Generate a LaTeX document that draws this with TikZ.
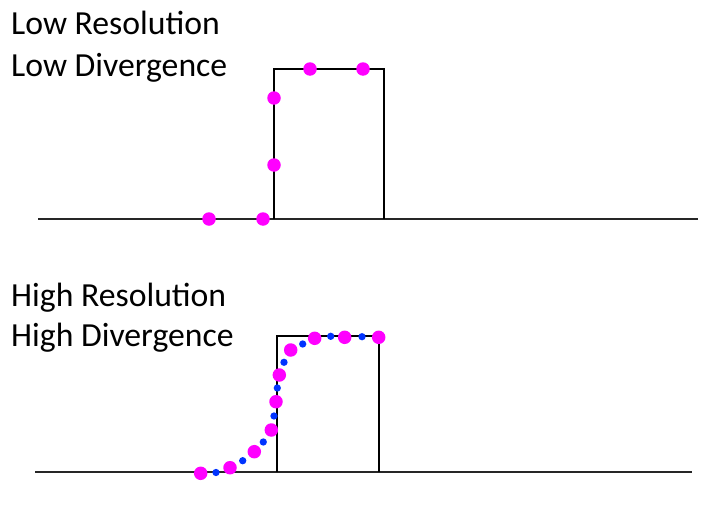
\documentclass[tikz,border=0pt]{standalone}
\usepackage{fontspec}
\setmainfont{Carlito}
\definecolor{dotmag}{HTML}{FF00FF}
\definecolor{dotblue}{HTML}{0033FF}
\begin{document}
\begin{tikzpicture}[x=1pt,y=-1pt,
  lbl/.style={anchor=base west,inner sep=0pt,font=\fontsize{33.7}{40}\selectfont},
  axisline/.style={line width=1.8pt,black!85},
  pulse/.style={line width=1.8pt,black},
  mdot/.style={circle,fill=dotmag,inner sep=0pt,minimum size=13.5pt},
  bdot/.style={circle,fill=dotblue,inner sep=0pt,minimum size=7.3pt}]
\useasboundingbox (0,0) rectangle (712,530);
% top panel
\node[lbl] (t1) at (11,34) {Low Resolution};
\node[lbl] (t2) at (11,76) {Low Divergence};
\draw[axisline] (38,219) -- (698,219);
\draw[pulse] (274,219) -- (274,69) -- (384,69) -- (384,219);
\foreach \x/\y [count=\i] in {209/219,263/219,274/165,274/98,310/69,363/69}
  \node[mdot] (a\i) at (\x,\y) {};
% bottom panel
\node[lbl] (t3) at (11,306) {High Resolution};
\node[lbl] (t4) at (11,346) {High Divergence};
\draw[axisline] (35,472) -- (692,472);
\draw[pulse] (277,472) -- (277,336) -- (379,336) -- (379,472);
\foreach \x/\y [count=\i] in {216/472.5,242.7/460.7,263.3/442,274/416,277.3/388,284/362.3,302.7/344,330.7/336.3,362/336.7}
  \node[bdot] (b\i) at (\x,\y) {};
\foreach \x/\y [count=\i] in {200.7/473.3,230/467.7,254.3/451.7,271.3/430,276/401.7,279.3/375,290.7/350,314.7/338.3,344.7/337.3,378.7/337.3}
  \node[mdot] (c\i) at (\x,\y) {};
\end{tikzpicture}
\end{document}
